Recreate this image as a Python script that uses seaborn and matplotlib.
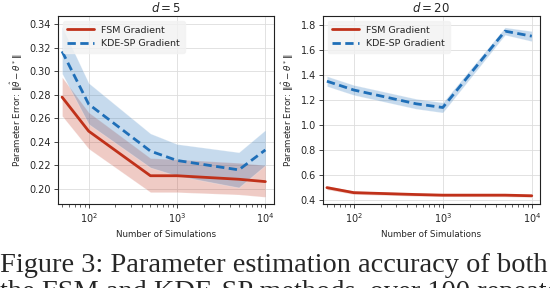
import numpy as np
import pandas as pd
import matplotlib
matplotlib.use("Agg")
import matplotlib.pyplot as plt
import seaborn as sns

n_sims = [50, 100, 500, 1000, 5000, 10000]

# d = 5
fsm5 = [0.278, 0.249, 0.211, 0.211, 0.208, 0.206]
fsm5_lo = [0.262, 0.234, 0.197, 0.197, 0.195, 0.193]
fsm5_hi = [0.295, 0.265, 0.226, 0.225, 0.222, 0.220]
kde5 = [0.317, 0.272, 0.232, 0.224, 0.216, 0.233]
kde5_lo = [0.298, 0.255, 0.218, 0.211, 0.201, 0.220]
kde5_hi = [0.338, 0.290, 0.247, 0.238, 0.231, 0.250]

# d = 20
fsm20 = [0.500, 0.460, 0.445, 0.440, 0.440, 0.435]
fsm20_lo = [0.485, 0.447, 0.433, 0.429, 0.428, 0.424]
fsm20_hi = [0.515, 0.473, 0.457, 0.451, 0.452, 0.446]
kde20 = [1.35, 1.28, 1.17, 1.14, 1.75, 1.71]
kde20_lo = [1.31, 1.24, 1.13, 1.10, 1.72, 1.67]
kde20_hi = [1.39, 1.32, 1.21, 1.18, 1.78, 1.75]

labels = ["FSM Gradient", "KDE-SP Gradient"]
titles = ["$d=5$", "$d=20$"]
caption1 = "Figure 3: Parameter estimation accuracy of both"
caption2 = "the FSM and KDE-SP methods, over 100 repeated"

red = "#c0311a"
blue = "#1f6fb8"

sns.set_style("ticks")
plt.rcParams["font.family"] = ["DejaVu Sans"]

fig = plt.figure(figsize=(5.5, 2.88), dpi=100)
ax1 = fig.add_axes([0.1055, 0.292, 0.392, 0.652])
ax2 = fig.add_axes([0.587, 0.292, 0.395, 0.652])

panels = [
    (ax1, fsm5, fsm5_lo, fsm5_hi, kde5, kde5_lo, kde5_hi, titles[0]),
    (ax2, fsm20, fsm20_lo, fsm20_hi, kde20, kde20_lo, kde20_hi, titles[1]),
]

for ax, f, flo, fhi, k, klo, khi, title in panels:
    df = pd.DataFrame({
        "n": n_sims * 2,
        "err": f + k,
        "method": [labels[0]] * len(n_sims) + [labels[1]] * len(n_sims),
    })
    ax.fill_between(n_sims, flo, fhi, color=red, alpha=0.25, edgecolor="white", linewidth=0.6, zorder=1)
    ax.fill_between(n_sims, klo, khi, color=blue, alpha=0.25, edgecolor="white", linewidth=0.6, zorder=1)
    sns.lineplot(data=df, x="n", y="err", hue="method", style="method",
                 palette=[red, blue], dashes=[(None, None), (3, 1.6)],
                 linewidth=2.0, ax=ax, zorder=3)
    ax.set_xscale("log")
    ax.set_xlim(45, 12400)
    ax.grid(True, which="major", color="#dddddd", linewidth=0.6, zorder=0)
    ax.set_axisbelow(True)
    ax.set_title(title, fontsize=8.5, pad=3)
    ax.set_xlabel("Number of Simulations", fontsize=6.3, labelpad=4)
    ax.set_ylabel(r"Parameter Error: $\|\hat{\theta} - \theta^*\|$", fontsize=6.3, labelpad=3)
    ax.tick_params(axis="both", which="major", labelsize=7, length=3, width=0.6, pad=2)
    ax.tick_params(axis="both", which="minor", length=1.8, width=0.5)
    for sp in ax.spines.values():
        sp.set_linewidth(0.8)
        sp.set_color("#222222")
    leg = ax.legend(loc="upper left", fontsize=6.8, frameon=True, framealpha=0.8,
                    facecolor="#f2f2f2", edgecolor="#f2f2f2", handlelength=2.8,
                    borderpad=0.5, labelspacing=0.45)
    for line in leg.get_lines():
        line.set_linewidth(2.0)

ax1.set_ylim(0.187, 0.347)
ax1.set_yticks([0.20, 0.22, 0.24, 0.26, 0.28, 0.30, 0.32, 0.34])
ax2.set_ylim(0.37, 1.87)
ax2.set_yticks([0.4, 0.6, 0.8, 1.0, 1.2, 1.4, 1.6, 1.8])

fig.text(0.0, 1 - 272 / 288, caption1, fontsize=20.4, family=["Liberation Serif"],
         ha="left", va="baseline")
fig.text(0.0, 1 - 299 / 288, caption2, fontsize=20.4, family=["Liberation Serif"],
         ha="left", va="baseline")

fig.savefig("out.png", dpi=100)
